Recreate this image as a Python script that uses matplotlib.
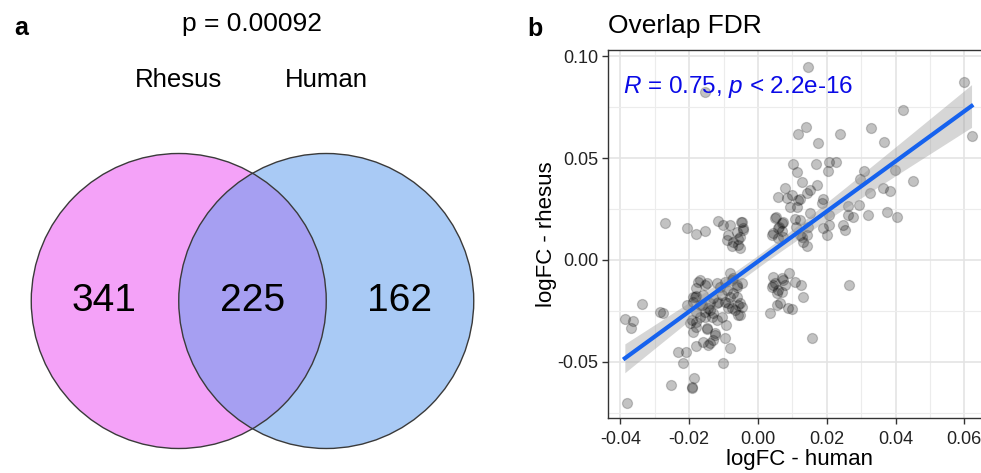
import numpy as np
import matplotlib
matplotlib.use("Agg")
import matplotlib.pyplot as plt
from matplotlib.patches import Circle
from matplotlib.ticker import MultipleLocator

plt.rcParams["font.family"] = ["Liberation Sans", "DejaVu Sans"]
plt.rcParams["mathtext.fontset"] = "custom"
plt.rcParams["mathtext.rm"] = "Liberation Sans"
plt.rcParams["mathtext.it"] = "Liberation Sans:italic"

# --- Venn (a) ---
venn_sets = ["Rhesus", "Human"]
venn_counts = [341, 225, 162]  # rhesus only, both, human only
venn_p = "p = 0.00092"

# --- Scatter (b): logFC of overlapping genes ---
human_fc = [
    -0.0154, 0.0145, 0.0600, 0.0421, 0.0140, 0.0117, 0.0238, 0.0328,
    0.0174, 0.0366, 0.0621, 0.0103, 0.0169, 0.0207, 0.0227, 0.0114,
    0.0205, 0.0309, 0.0398, 0.0452, 0.0127, 0.0171, 0.0078, 0.0297,
    0.0326, 0.0363, 0.0384, 0.0098, 0.0117, 0.0142, 0.0190, 0.0185,
    0.0263, 0.0295, 0.0321, 0.0374, 0.0405, 0.0263, 0.0277, 0.0093,
    0.0151, 0.0108, 0.0074, 0.0207, 0.0188, 0.0253, 0.0248, 0.0146,
    0.0200, 0.0127, 0.0142, 0.0132, 0.0069, 0.0265, 0.0091, 0.0069,
    0.0108, 0.0124, 0.0132, 0.0069, 0.0098, 0.0156, 0.0064, 0.0083,
    0.0057, 0.0122, 0.0151, 0.0114, 0.0206, 0.0049, 0.0059, 0.0122,
    0.0112, 0.0122, 0.0142, 0.0040, -0.0047, -0.0043, 0.0059, 0.0062,
    0.0053, 0.0045, 0.0069, 0.0072, -0.0270, -0.0207, -0.0180, -0.0154,
    -0.0115, -0.0103, -0.0081, -0.0050, -0.0043, -0.0062, -0.0086, -0.0091,
    -0.0072, -0.0057, -0.0076, -0.0052, -0.0057, -0.0052, -0.0169, -0.0179,
    -0.0154, -0.0120, -0.0096, -0.0076, -0.0062, -0.0047, -0.0091, -0.0105,
    -0.0072, 0.0045, 0.0059, 0.0072, 0.0043, -0.0081, -0.0072, -0.0174,
    -0.0149, -0.0110, -0.0062, -0.0081, -0.0062, -0.0052, -0.0076, -0.0096,
    -0.0116, -0.0130, -0.0140, -0.0159, -0.0183, -0.0188, -0.0164, -0.0145,
    -0.0130, -0.0154, -0.0179, -0.0169, -0.0193, -0.0135, -0.0120, -0.0106,
    -0.0086, -0.0052, -0.0067, -0.0149, -0.0179, -0.0125, -0.0096, -0.0140,
    -0.0081, -0.0159, -0.0188, -0.0209, -0.0233, -0.0285, -0.0276, 0.0040,
    0.0054, 0.0049, 0.0078, 0.0054, 0.0035, 0.0088, -0.0338, -0.0387,
    -0.0364, -0.0369, -0.0218, -0.0180, -0.0186, -0.0193, -0.0193, -0.0253,
    -0.0380, -0.0145, -0.0130, -0.0147, -0.0198, -0.0179, -0.0125, -0.0093,
    -0.0103, -0.0057, -0.0047, -0.0057, -0.0086, -0.0120, -0.0140, -0.0154,
    -0.0169, -0.0207, -0.0188, -0.0179,
]
rhesus_fc = [
    0.0824, 0.0948, 0.0871, 0.0735, 0.0654, 0.0616, 0.0616, 0.0649,
    0.0575, 0.0577, 0.0610, 0.0469, 0.0470, 0.0479, 0.0482, 0.0433,
    0.0436, 0.0436, 0.0441, 0.0389, 0.0384, 0.0368, 0.0351, 0.0395,
    0.0330, 0.0351, 0.0340, 0.0319, 0.0294, 0.0327, 0.0297, 0.0278,
    0.0265, 0.0270, 0.0220, 0.0237, 0.0212, 0.0220, 0.0209, 0.0261,
    0.0229, 0.0199, 0.0188, 0.0172, 0.0155, 0.0147, 0.0172, 0.0163,
    0.0123, 0.0114, 0.0069, 0.0090, 0.0180, -0.0123, -0.0065, -0.0090,
    -0.0106, -0.0123, -0.0180, -0.0155, -0.0240, -0.0384, -0.0212, 0.0302,
    0.0311, 0.0300, 0.0343, 0.0262, 0.0220, 0.0204, 0.0155, 0.0196,
    0.0163, 0.0123, 0.0123, 0.0123, 0.0188, 0.0155, 0.0106, 0.0163,
    0.0212, 0.0131, 0.0140, 0.0114, 0.0180, 0.0155, 0.0126, 0.0144,
    0.0191, 0.0172, 0.0172, 0.0188, 0.0147, 0.0139, 0.0123, 0.0098,
    0.0090, 0.0102, 0.0069, 0.0057, 0.0074, 0.0114, -0.0098, -0.0139,
    -0.0123, -0.0114, -0.0106, -0.0098, -0.0123, -0.0114, -0.0147, -0.0172,
    -0.0163, -0.0123, -0.0147, -0.0098, -0.0085, -0.0065, -0.0090, -0.0106,
    -0.0114, -0.0131, -0.0131, -0.0180, -0.0180, -0.0212, -0.0237, -0.0204,
    -0.0204, -0.0188, -0.0212, -0.0172, -0.0180, -0.0204, -0.0221, -0.0237,
    -0.0261, -0.0253, -0.0253, -0.0278, -0.0294, -0.0278, -0.0294, -0.0278,
    -0.0237, -0.0270, -0.0245, -0.0335, -0.0327, -0.0368, -0.0384, -0.0409,
    -0.0433, -0.0400, -0.0351, -0.0449, -0.0449, -0.0253, -0.0261, -0.0131,
    -0.0163, -0.0114, -0.0123, -0.0221, -0.0261, -0.0237, -0.0216, -0.0290,
    -0.0297, -0.0332, -0.0507, -0.0422, -0.0580, -0.0629, -0.0621, -0.0613,
    -0.0699, -0.0417, -0.0392, -0.0340, -0.0311, -0.0302, -0.0359, -0.0319,
    -0.0507, -0.0221, -0.0229, -0.0270, -0.0213, -0.0213, -0.0245, -0.0278,
    -0.0221, -0.0221, -0.0180, -0.0176,
]
x_ticks = [-0.04, -0.02, 0.00, 0.02, 0.04, 0.06]
y_ticks = [-0.05, 0.00, 0.05, 0.10]

fig = plt.figure(figsize=(9.81, 4.73), dpi=100)
W, H = 981, 473

# ---------- a: Venn ----------
axv = fig.add_axes([0, 0, 520 / W, 1])
scale = 147.5  # px per circle radius
cx, cy = 252.5, 301
axv.set_xlim((0 - cx) / scale, (520 - cx) / scale)
axv.set_ylim((cy - H) / scale, cy / scale)
axv.set_aspect("equal")
axv.axis("off")

left = Circle((-0.5, 0), 1.0, facecolor="#f4a2f8", edgecolor="none")
right = Circle((0.5, 0), 1.0, facecolor="#a9caf5", edgecolor="none")
axv.add_patch(left)
axv.add_patch(right)
lens = Circle((-0.5, 0), 1.0, facecolor="#a69ff2", edgecolor="none")
axv.add_patch(lens)
lens.set_clip_path(right)
for c in [(-0.5, 0), (0.5, 0)]:
    axv.add_patch(Circle(c, 1.0, facecolor="none", edgecolor="#3a3a3a", lw=1.0))

axv.text(-1.01, 0, str(venn_counts[0]), fontsize=28, ha="center", va="center")
axv.text(0.0, 0, str(venn_counts[1]), fontsize=28, ha="center", va="center")
axv.text(1.0, 0, str(venn_counts[2]), fontsize=28, ha="center", va="center")
axv.text(-0.5, 1.50, venn_sets[0], fontsize=18.5, ha="center", va="center")
axv.text(0.5, 1.50, venn_sets[1], fontsize=18.5, ha="center", va="center")
axv.text(0.0, 1.88, venn_p, fontsize=19, ha="center", va="center")

fig.text(14 / W, 1 - 28 / H, "a", fontsize=18, fontweight="bold", ha="left", va="center")
fig.text(527 / W, 1 - 29 / H, "b", fontsize=18, fontweight="bold", ha="left", va="center")

# ---------- b: scatter ----------
x = np.array(human_fc)
y = np.array(rhesus_fc)
ax = fig.add_axes([608 / W, 1 - 418 / H, 1 - 608 / W + 0.01, (418 - 50) / H])
ax.set_xlim(-0.0436, 0.0677)
ax.set_ylim(-0.0775, 0.103)

ax.xaxis.set_major_locator(MultipleLocator(0.02))
ax.xaxis.set_minor_locator(MultipleLocator(0.01))
ax.yaxis.set_major_locator(MultipleLocator(0.05))
ax.yaxis.set_minor_locator(MultipleLocator(0.025))
ax.set_xticks(x_ticks)
ax.set_yticks(y_ticks)
ax.set_xticklabels([f"{v:.2f}" for v in x_ticks])
ax.set_yticklabels([f"{v:.2f}" for v in y_ticks])
ax.grid(True, which="major", color="#e4e4e4", lw=1.2)
ax.grid(True, which="minor", color="#ececec", lw=0.8)
ax.set_axisbelow(True)
ax.tick_params(which="minor", length=0)
ax.tick_params(which="major", length=4, width=1.0, color="#333333",
               labelsize=13, labelcolor="#222222", pad=3)
ax.tick_params(axis="x", pad=5)
for s in ax.spines.values():
    s.set_color("#333333")
    s.set_linewidth(1.0)

ax.scatter(x, y, s=52, facecolor=(0, 0, 0, 0.24), edgecolor=(0, 0, 0, 0.2),
           linewidths=0.9, zorder=3)

# linear fit with 95% band
n = len(x)
b1, b0 = np.polyfit(x, y, 1)
xs = np.linspace(x.min(), x.max(), 100)
ys = b0 + b1 * xs
resid = y - (b0 + b1 * x)
s_err = np.sqrt(np.sum(resid ** 2) / (n - 2))
se = s_err * np.sqrt(1 / n + (xs - x.mean()) ** 2 / np.sum((x - x.mean()) ** 2))
ax.fill_between(xs, ys - 1.97 * se, ys + 1.97 * se, color="#999999", alpha=0.4,
                lw=0, zorder=4)
ax.plot(xs, ys, color="#1662ee", lw=3.0, zorder=5)

ax.text(-0.0392, 0.0848, r"$R$ = 0.75, $p$ < 2.2e-16", color="#0a0ae6",
        fontsize=17.5, ha="left", va="center", zorder=6)

ax.set_title("Overlap FDR", fontsize=19, loc="left", x=0.0, pad=12)
ax.set_xlabel("logFC - human", fontsize=16, labelpad=1)
ax.set_ylabel("logFC - rhesus", fontsize=16, labelpad=0)

fig.savefig("out.png", dpi=100)
